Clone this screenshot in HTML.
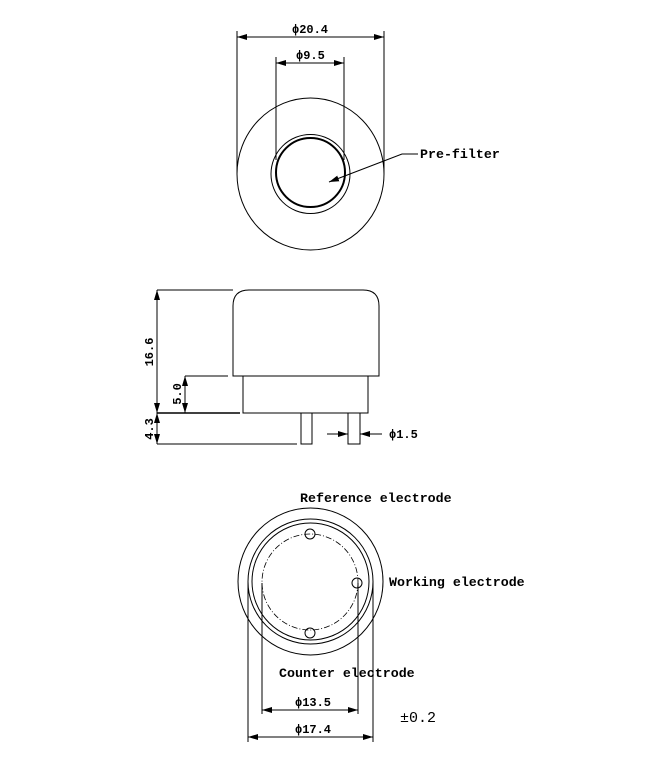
<!DOCTYPE html>
<html><head><style>
html,body{margin:0;padding:0;background:#fff;}
svg{display:block;}
text{font-family:"Liberation Mono",monospace;fill:#000;}
</style></head><body>
<svg width="654" height="760" viewBox="0 0 654 760" xmlns="http://www.w3.org/2000/svg">
<defs>
<marker id="a" viewBox="0 0 10 6" refX="10" refY="3" markerWidth="10" markerHeight="6" orient="auto-start-reverse" markerUnits="userSpaceOnUse"><path d="M0,0 L10,3 L0,6 z" fill="#000"/></marker>
</defs>
<g fill="none" stroke="#000" stroke-width="1">
<!-- top view -->
<ellipse cx="310.5" cy="174" rx="73.5" ry="76"/>
<circle cx="310.5" cy="174" r="39.5"/>
<circle cx="310.5" cy="172.5" r="34.5" stroke-width="2"/>
<line x1="237" y1="31" x2="237" y2="174"/>
<line x1="384" y1="31" x2="384" y2="174"/>
<line x1="237" y1="37" x2="384" y2="37" marker-start="url(#a)" marker-end="url(#a)"/>
<line x1="276" y1="57" x2="276" y2="160"/>
<line x1="344" y1="57" x2="344" y2="160"/>
<line x1="276" y1="63" x2="344" y2="63" marker-start="url(#a)" marker-end="url(#a)"/>
<polyline points="418,154 402,154 329,182" marker-end="url(#a)"/>
<!-- side view -->
<path d="M233,376 V306 Q233,290 249,290 H363 Q379,290 379,306 V376 Z"/>
<rect x="243" y="376" width="125" height="37"/>
<rect x="301" y="413" width="11" height="31"/>
<rect x="348" y="413" width="12" height="31"/>
<line x1="157" y1="290" x2="233" y2="290"/>
<line x1="157" y1="290" x2="157" y2="413" marker-start="url(#a)" marker-end="url(#a)"/>
<line x1="157" y1="413" x2="157" y2="444" marker-start="url(#a)" marker-end="url(#a)"/>
<line x1="157" y1="413" x2="240" y2="413" stroke-width="1.5"/>
<line x1="157" y1="444" x2="297" y2="444"/>
<line x1="185" y1="376" x2="228" y2="376"/>
<line x1="185" y1="376" x2="185" y2="413" marker-start="url(#a)" marker-end="url(#a)"/>
<line x1="327" y1="434" x2="348" y2="434" marker-end="url(#a)"/>
<line x1="382" y1="434" x2="360" y2="434" marker-end="url(#a)"/>
<!-- bottom view -->
<ellipse cx="310.5" cy="581.5" rx="72.5" ry="73.5"/>
<circle cx="310.5" cy="581.5" r="62.5"/>
<circle cx="310.5" cy="581.5" r="58.5"/>
<circle cx="310" cy="582" r="48" stroke-dasharray="6,2,1,2" stroke-width="0.8"/>
<circle cx="310" cy="534" r="5"/>
<circle cx="357" cy="583" r="5"/>
<circle cx="310" cy="633" r="5"/>
<line x1="262" y1="583" x2="262" y2="714"/>
<line x1="358" y1="583" x2="358" y2="714"/>
<line x1="262" y1="710" x2="358" y2="710" marker-start="url(#a)" marker-end="url(#a)"/>
<line x1="248" y1="581" x2="248" y2="742"/>
<line x1="373" y1="581" x2="373" y2="742"/>
<line x1="248" y1="737" x2="373" y2="737" marker-start="url(#a)" marker-end="url(#a)"/>
</g>
<g font-size="12" font-weight="bold">
<text x="292" y="33">ϕ20.4</text>
<text x="296" y="59">ϕ9.5</text>
<text x="389" y="438">ϕ1.5</text>
<text x="295" y="706">ϕ13.5</text>
<text x="295" y="733">ϕ17.4</text>
<text transform="translate(153,352) rotate(-90)" text-anchor="middle">16.6</text>
<text transform="translate(181,394) rotate(-90)" text-anchor="middle">5.0</text>
<text transform="translate(153,429) rotate(-90)" text-anchor="middle">4.3</text>
</g>
<g font-size="13.3" font-weight="bold">
<text x="420" y="158">Pre-filter</text>
<text x="300" y="502">Reference electrode</text>
<text x="389" y="586">Working electrode</text>
<text x="279" y="677">Counter electrode</text>
<text x="400" y="722" font-size="15" font-weight="normal">±0.2</text>
</g>
</svg>
</body></html>
